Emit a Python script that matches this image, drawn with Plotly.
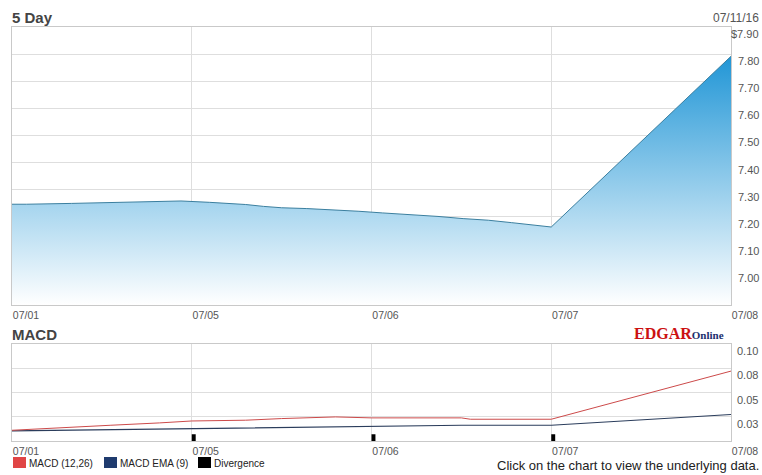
import plotly.graph_objects as go

# ---- data -------------------------------------------------------------
day_labels = ["07/01", "07/05", "07/06", "07/07", "07/08"]
day_pos = [0, 1, 2, 3, 4]

# intraday price samples (position in trading days, price in $)
price_t = [0.00, 0.08, 0.33, 0.66, 0.94, 1.10, 1.20, 1.30, 1.40, 1.50, 1.64,
           1.79, 1.93, 2.06, 2.21, 2.37, 2.51, 2.65, 2.78, 2.92, 3.00, 4.00]
price_v = [7.246, 7.246, 7.249, 7.253, 7.258, 7.253, 7.249, 7.245, 7.238, 7.233, 7.230,
           7.226, 7.220, 7.214, 7.208, 7.201, 7.193, 7.187, 7.178, 7.169, 7.162, 7.792]
price_ticks = [7.0, 7.1, 7.2, 7.3, 7.4, 7.5, 7.6, 7.7, 7.8, 7.9]
price_tick_text = ["7.00", "7.10", "7.20", "7.30", "7.40", "7.50", "7.60", "7.70", "7.80", "$7.90"]

macd_t = [0.00, 0.10, 0.30, 0.55, 0.82, 1.00, 1.30, 1.50, 1.80, 2.00, 2.50, 2.55, 3.00, 4.00]
macd_v = [0.0111, 0.0121, 0.0145, 0.0163, 0.0187, 0.0207, 0.0215, 0.0232, 0.0249, 0.0239,
          0.0239, 0.0225, 0.0225, 0.0723]
ema_t = [0.00, 0.28, 0.55, 1.30, 1.82, 2.50, 3.00, 4.00]
ema_v = [0.0104, 0.0111, 0.0121, 0.0139, 0.0152, 0.0163, 0.0163, 0.0274]
div_t = [1, 2, 3]
div_v = [0.007, 0.007, 0.007]
macd_ticks = [0.025, 0.05, 0.075, 0.10]
macd_tick_text = ["0.03", "0.05", "0.08", "0.10"]

# ---- geometry ---------------------------------------------------------
W, H = 762, 475
ML, MR, MT, MB = 12, 31, 27, 34
PW, PH = W - ML - MR, H - MT - MB


def paper_x(px):
    return (px - ML) / PW


def paper_y(py):
    return (H - MB - py) / PH


FONT = "Arial, Liberation Sans, sans-serif"
GRID = "#dedede"
BORDER = "#c9c9c9"
TICK_COLOR = "#555555"

fig = go.Figure()

# price area with vertical gradient fill
fig.add_trace(go.Scatter(
    x=price_t, y=price_v, mode="lines",
    line=dict(color="#3b7f9f", width=1),
    fill="tozeroy",
    fillgradient=dict(type="vertical",
                      colorscale=[[0, "#ffffff"], [1, "#2196d6"]],
                      start=6.874, stop=max(price_v)),
    xaxis="x", yaxis="y", showlegend=False, hoverinfo="x+y",
))

# MACD panel
fig.add_trace(go.Bar(
    x=div_t, y=div_v, width=0.022, offset=0,
    marker=dict(color="#000000", line=dict(width=0)),
    xaxis="x2", yaxis="y2", showlegend=False,
))
fig.add_trace(go.Scatter(
    x=ema_t, y=ema_v, mode="lines", line=dict(color="#2b3d5c", width=1.2),
    xaxis="x2", yaxis="y2", showlegend=False,
))
fig.add_trace(go.Scatter(
    x=macd_t, y=macd_v, mode="lines", line=dict(color="#cc4a4a", width=1),
    xaxis="x2", yaxis="y2", showlegend=False,
))

axis_common = dict(showline=True, linecolor=BORDER, linewidth=1, mirror=True,
                   gridcolor=GRID, gridwidth=1, zeroline=False, ticks="",
                   automargin=False)

top_lo = 7.90 - (305 - MT) / 271.0

fig.update_layout(
    width=W, height=H,
    margin=dict(l=ML, r=MR, t=MT, b=MB, autoexpand=False),
    paper_bgcolor="white", plot_bgcolor="white",
    font=dict(family=FONT, size=11, color=TICK_COLOR),
    showlegend=False,
    xaxis=dict(domain=[0, 1], range=[0, 4], anchor="y",
               tickmode="array", tickvals=day_pos, ticktext=day_labels,
               ticklabelshift=14, ticklabelstandoff=0,
               tickfont=dict(size=10.5, color=TICK_COLOR), **axis_common),
    yaxis=dict(domain=[paper_y(305), 1], range=[top_lo, 7.90], anchor="x",
               side="right", tickmode="array", tickvals=price_ticks,
               showticklabels=False, **axis_common),
    xaxis2=dict(domain=[0, 1], range=[0, 4], anchor="y2",
                tickmode="array", tickvals=day_pos, ticktext=day_labels,
                ticklabelshift=14, ticklabelstandoff=0,
                tickfont=dict(size=10.5, color=TICK_COLOR), **axis_common),
    yaxis2=dict(domain=[0, paper_y(344.3)], range=[0, 0.10], anchor="x2",
                side="right", tickmode="array", tickvals=macd_ticks,
                showticklabels=False, **axis_common),
)

annotations = []
# price axis labels, right aligned, sitting just below their grid lines
for v, t in zip(price_ticks, price_tick_text):
    annotations.append(dict(x=day_pos[-1], y=v, xref="x", yref="y", text=t,
                            showarrow=False, xanchor="right", yanchor="middle",
                            xshift=30, yshift=-7,
                            font=dict(size=11, color=TICK_COLOR, family=FONT)))
# MACD axis labels
for v, t in zip(macd_ticks, macd_tick_text):
    annotations.append(dict(x=day_pos[-1], y=v, xref="x2", yref="y2", text=t,
                            showarrow=False, xanchor="left", yanchor="middle",
                            xshift=4, yshift=-7,
                            font=dict(size=11, color=TICK_COLOR, family=FONT)))

# titles and captions
annotations += [
    dict(x=paper_x(10), y=paper_y(18), xref="paper", yref="paper", text="<b>5 Day</b>",
         showarrow=False, xanchor="left", yanchor="middle",
         font=dict(size=15, color="#444444", family=FONT)),
    dict(x=paper_x(10), y=paper_y(334), xref="paper", yref="paper", text="<b>MACD</b>",
         showarrow=False, xanchor="left", yanchor="middle",
         font=dict(size=15, color="#444444", family=FONT)),
    dict(x=paper_x(761), y=paper_y(18), xref="paper", yref="paper", text="07/11/16",
         showarrow=False, xanchor="right", yanchor="middle",
         font=dict(size=12, color=TICK_COLOR, family=FONT)),
    dict(x=paper_x(726), y=paper_y(333), xref="paper", yref="paper",
         text="<b><span style='color:#cc1111'>EDGAR</span>"
              "<span style='color:#1c2f6e;font-size:11px'>Online</span></b>",
         showarrow=False, xanchor="right", yanchor="middle",
         font=dict(size=16, color="#cc1111", family="Liberation Serif, Times New Roman, serif")),
    dict(x=paper_x(761), y=paper_y(465), xref="paper", yref="paper",
         text="Click on the chart to view the underlying data.",
         showarrow=False, xanchor="right", yanchor="middle",
         font=dict(size=13, color="#222222", family=FONT)),
]

# legend row: colour swatches and names
legend_items = [("MACD (12,26)", "#e04545", 13), ("MACD EMA (9)", "#1f3b6e", 104),
                ("Divergence", "#000000", 198)]
shapes = []
for name, color, x0 in legend_items:
    shapes.append(dict(type="rect", xref="paper", yref="paper",
                       x0=paper_x(x0), x1=paper_x(x0 + 13),
                       y0=paper_y(468), y1=paper_y(457),
                       fillcolor=color, line=dict(width=0)))
    annotations.append(dict(x=paper_x(x0 + 14), y=paper_y(463), xref="paper", yref="paper",
                            text=name, showarrow=False, xanchor="left", yanchor="middle",
                            font=dict(size=10, color="#222222", family=FONT)))

fig.update_layout(annotations=annotations, shapes=shapes)

fig.write_html("out.html")
